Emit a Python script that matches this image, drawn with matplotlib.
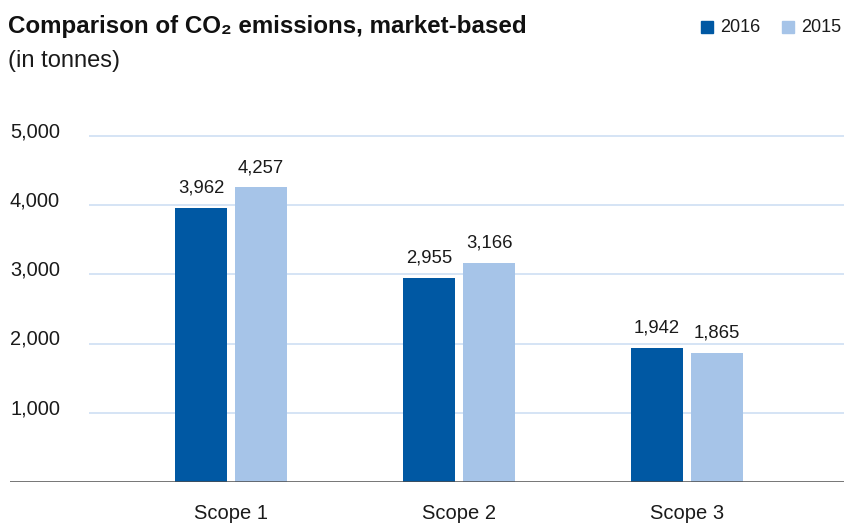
import numpy as np
import matplotlib
matplotlib.use("Agg")
from matplotlib import pyplot as plt

plt.rcParams['font.family'] = ['Liberation Sans', 'DejaVu Sans']

# data
categories = ["Scope 1", "Scope 2", "Scope 3"]
series_names = ["2016", "2015"]
values_2016 = [3962, 2955, 1942]
values_2015 = [4257, 3166, 1865]
y_ticks = [1000, 2000, 3000, 4000, 5000]

c_dark = "#0058A3"
c_light = "#A6C4E8"
c_grid = "#CADDF2"
c_text = "#1a1a1a"

W, H = 844, 526
fig = plt.figure(figsize=(W / 100, H / 100), dpi=100)

ax_left, ax_right = 10, 844
ax_top, ax_bottom = 136, 482
ax = fig.add_axes([ax_left / W, 1 - ax_bottom / H, (ax_right - ax_left) / W, (ax_bottom - ax_top) / H])

x = np.arange(len(categories))
xmin = -(231 - ax_left) / 228
xmax = 2 + (ax_right - 687) / 228
ax.set_xlim(xmin, xmax)
ax.set_ylim(0, 5000)

bw = 52 / 228
off = 30 / 228
grid_start = xmin + (89 - ax_left) / 228
ax.hlines(y_ticks, grid_start, xmax, colors=c_grid, linewidth=1.1, zorder=0, clip_on=False)

b1 = ax.bar(x - off, values_2016, width=bw, color=c_dark, zorder=2)
b2 = ax.bar(x + off, values_2015, width=bw, color=c_light, zorder=2)

for bars, vals in ((b1, values_2016), (b2, values_2015)):
    for rect, v in zip(bars, vals):
        ax.annotate(f"{v:,}", (rect.get_x() + rect.get_width() / 2, v),
                    xytext=(0, 15), textcoords="offset pixels",
                    ha="center", va="baseline", fontsize=13.3, color=c_text)

ax.axhline(0, color="#4d4d4d", linewidth=1.8, zorder=3)

for s in ax.spines.values():
    s.set_visible(False)
ax.set_yticks([])
ax.set_xticks(x)
ax.set_xticklabels(categories, fontsize=14.5, color=c_text)
ax.tick_params(axis="x", length=0, pad=16)

# y tick labels, sitting just on top of their grid lines
for t in y_ticks:
    ax.text(xmin, t - 20, f"{t:,}", ha="left", va="baseline", fontsize=14.4,
            color=c_text)

fig.text(8 / W, 1 - 33 / H, "Comparison of CO₂ emissions, market-based",
         fontsize=17.4, fontweight="bold", va="baseline", ha="left", color="#111111")
fig.text(8 / W, 1 - 67 / H, "(in tonnes)", fontsize=17, va="baseline", ha="left", color=c_text)

# legend
for xs, name, col in ((701, "2016", c_dark), (782, "2015", c_light)):
    fig.patches.append(plt.Rectangle((xs / W, 1 - 33 / H), 12 / W, 12 / H,
                                     color=col, transform=fig.transFigure, figure=fig))
    fig.text((xs + 19) / W, 1 - 32 / H, name, fontsize=13, va="baseline", ha="left", color=c_text)

fig.savefig("out.png", dpi=100)
